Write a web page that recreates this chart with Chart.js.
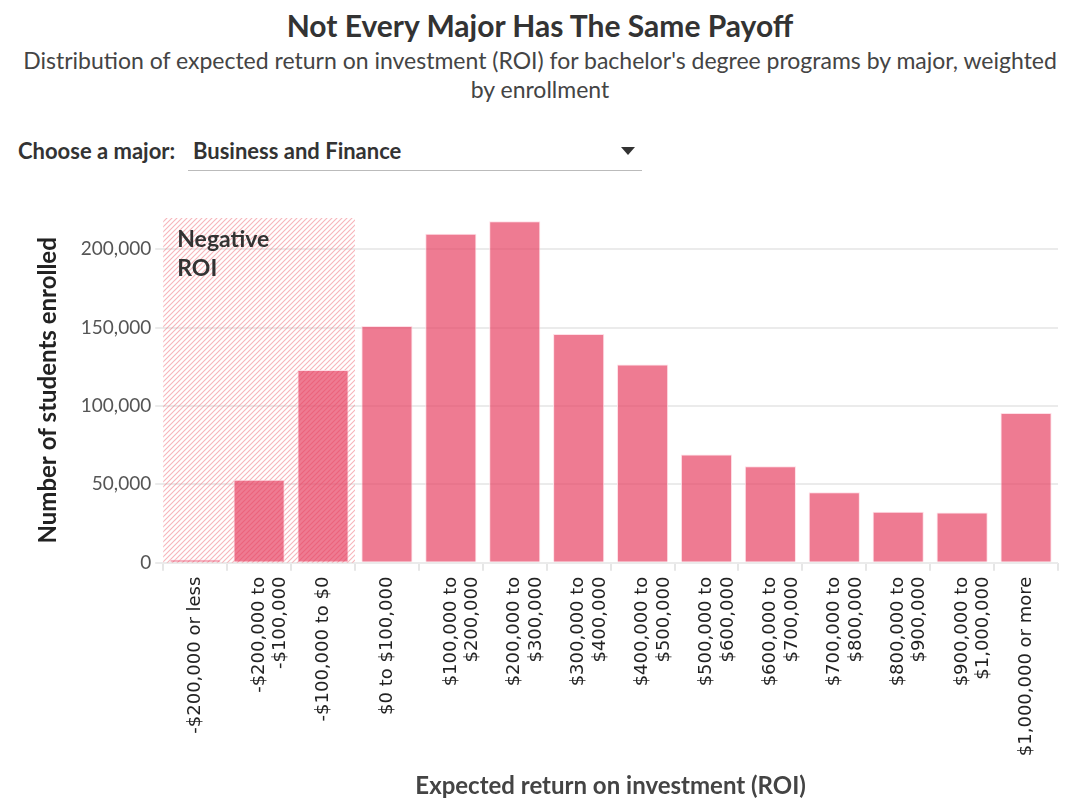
<!DOCTYPE html>
<html>
<head>
<meta charset="utf-8">
<script src="https://cdn.jsdelivr.net/npm/chart.js@4"></script>
<style>
  html, body { margin: 0; padding: 0; background: #fff; }
  body { width: 1080px; height: 809px; position: relative; overflow: hidden; font-family: Lato, "Noto Sans", sans-serif; color: #333; }
  #title { position: absolute; top: 7px; left: 0; width: 1080px; text-align: center; font-size: 30px; font-weight: bold; color: #333; }
  #sub { position: absolute; top: 46px; left: 0; width: 1080px; text-align: center; font-size: 23px; line-height: 29px; color: #444; }
  #pick { position: absolute; top: 137px; left: 18px; font-size: 22px; font-weight: bold; color: #333; }
  #sel { position: absolute; top: 137px; left: 188px; width: 454px; height: 33px; border-bottom: 1px solid #bbb; font-size: 22px; font-weight: bold; color: #333; }
  #sel span { margin-left: 5px; }
  #sel i { position: absolute; right: 7px; top: 10px; width: 0; height: 0; border-left: 7px solid transparent; border-right: 7px solid transparent; border-top: 8px solid #333; }
  #wrap { position: absolute; top: 195px; left: 0; width: 1080px; height: 614px; }
</style>
</head>
<body>
<div id="title">Not Every Major Has The Same Payoff</div>
<div id="sub">Distribution of expected return on investment (ROI) for bachelor's degree programs by major, weighted<br>by enrollment</div>
<div id="pick">Choose a major:</div>
<div id="sel"><span>Business and Finance</span><i></i></div>
<div id="wrap"><canvas id="chart"></canvas></div>
<script>
// ROI buckets (x axis) and enrollment per bucket
const roiBuckets = [
    ['-$200,000 or less'],
    ['-$200,000 to', '-$100,000'],
    ['-$100,000 to $0'],
    ['$0 to $100,000'],
    ['$100,000 to', '$200,000'],
    ['$200,000 to', '$300,000'],
    ['$300,000 to', '$400,000'],
    ['$400,000 to', '$500,000'],
    ['$500,000 to', '$600,000'],
    ['$600,000 to', '$700,000'],
    ['$700,000 to', '$800,000'],
    ['$800,000 to', '$900,000'],
    ['$900,000 to', '$1,000,000'],
    ['$1,000,000 or more']
];
const enrolled = [2000, 53000, 123000, 151000, 210000, 218000, 146000, 126500, 69000, 61500, 45000, 32500, 32000, 95500];
const yTicks = [0, 50000, 100000, 150000, 200000];
const negativeBuckets = 3;

// hatched band behind the negative ROI buckets
const negativeBand = {
    id: 'negativeBand',
    beforeDatasetsDraw(chart) {
        const { ctx, chartArea, scales } = chart;
        const x = scales.x;
        const left = chartArea.left;
        const right = (x.getPixelForValue(negativeBuckets - 1) + x.getPixelForValue(negativeBuckets)) / 2;
        const top = scales.y.getPixelForValue(220000);
        const bottom = scales.y.getPixelForValue(0);

        const p = document.createElement('canvas');
        p.width = 5; p.height = 5;
        const pc = p.getContext('2d');
        pc.strokeStyle = 'rgba(238,120,130,0.55)';
        pc.lineWidth = 1.1;
        pc.beginPath();
        pc.moveTo(0, 5); pc.lineTo(5, 0);
        pc.moveTo(-2.5, 2.5); pc.lineTo(2.5, -2.5);
        pc.moveTo(2.5, 7.5); pc.lineTo(7.5, 2.5);
        pc.stroke();

        ctx.save();
        ctx.fillStyle = ctx.createPattern(p, 'repeat');
        ctx.fillRect(left, top, right - left, bottom - top);
        ctx.fillStyle = '#333';
        ctx.font = 'bold 23px Lato, sans-serif';
        ctx.textBaseline = 'middle';
        ctx.fillText('Negative', left + 14, top + 22);
        ctx.fillText('ROI', left + 14, top + 51);
        ctx.restore();
    }
};

new Chart(document.getElementById('chart'), {
    type: 'bar',
    data: {
        labels: roiBuckets,
        datasets: [{
            data: enrolled,
            backgroundColor: 'rgba(230,60,95,0.68)',
            borderColor: 'rgba(255,220,228,0.9)',
            borderWidth: 1,
            barPercentage: 0.8,
            categoryPercentage: 1
        }]
    },
    options: {
        responsive: true,
        maintainAspectRatio: false,
        animation: false,
        layout: { padding: { left: 30, right: 22, top: 23, bottom: 0 } },
        plugins: {
            legend: { display: false },
            tooltip: { enabled: false }
        },
        scales: {
            x: {
                grid: { drawOnChartArea: false, drawTicks: true, tickLength: 8, color: '#e6e6e6', lineWidth: 2 },
                border: { display: false },
                ticks: {
                    minRotation: 90, maxRotation: 90, autoSkip: false,
                    color: '#222', padding: 6,
                    font: { family: '"DejaVu Sans", sans-serif', size: 18 }
                },
                title: {
                    display: true, text: 'Expected return on investment (ROI)',
                    color: '#444', padding: { top: 10, bottom: 8 },
                    font: { family: 'Lato, sans-serif', size: 24, weight: 'bold' }
                }
            },
            y: {
                min: 0, max: 220000,
                afterBuildTicks: axis => { axis.ticks = yTicks.map(v => ({ value: v })); },
                grid: { color: '#ebebeb', lineWidth: 2, drawTicks: true, tickLength: 8 },
                border: { display: false },
                ticks: {
                    color: '#555', padding: 4,
                    font: { family: 'Lato, sans-serif', size: 19 },
                    callback: v => v.toLocaleString('en-US')
                },
                title: {
                    display: true, text: 'Number of students enrolled',
                    color: '#222', padding: { bottom: 14 },
                    font: { family: 'Lato, sans-serif', size: 24, weight: 'bold' }
                }
            }
        }
    },
    plugins: [negativeBand]
});
</script>
</body>
</html>
